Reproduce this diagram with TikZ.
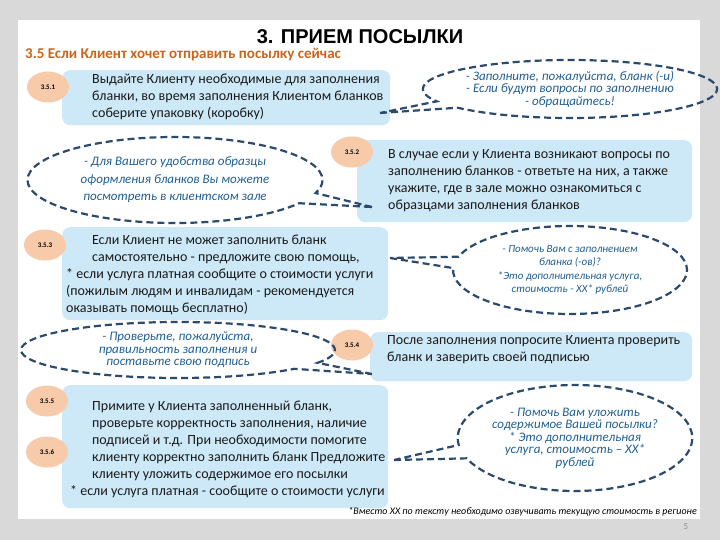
\documentclass[tikz,border=0pt]{standalone}
\usepackage{fontspec}
\setmainfont{Carlito}
\newfontfamily\titlefont{Liberation Sans}
\usetikzlibrary{shapes.geometric,shapes.callouts}
\definecolor{fond}{HTML}{D9D9D9}
\definecolor{bleu}{HTML}{CDE9F8}
\definecolor{peche}{HTML}{F7CBAA}
\definecolor{tiret}{HTML}{2C4A6C}
\definecolor{ecrit}{HTML}{1F5F92}
\definecolor{titreor}{HTML}{C8661E}

\begin{document}
\begin{tikzpicture}[x=1pt,y=-1pt,
  boite/.style={fill=bleu,rounded corners=8pt,inner sep=0pt,anchor=north west},
  num/.style={ellipse,fill=peche,minimum width=42pt,minimum height=31pt,inner sep=0pt,
    font=\fontsize{7}{8}\selectfont\bfseries},
  texte/.style={anchor=west,align=left,inner sep=0pt,text=black!90,
    font=\fontsize{14}{17}\selectfont},
  bulle/.style={ellipse callout,draw=tiret,line width=2.2pt,dash pattern=on 7pt off 4pt,
    inner sep=0pt,align=center,text=ecrit,font=\fontsize{13}{12.5}\selectfont\itshape}]

  % fond de la diapositive
\fill[fond] (0,0) rectangle (720,540);
\fill[white] (18,20) rectangle (700,519);
\useasboundingbox (0,0) rectangle (720,540);

  % titres
\node[font=\titlefont\fontsize{20}{22}\selectfont\bfseries] (titre) at (360,37) {3. ПРИЕМ ПОСЫЛКИ};
\node[anchor=west,inner sep=0pt,text=titreor,font=\fontsize{15}{16}\selectfont\bfseries] (soustitre) at (25,55)
  {3.5 Если Клиент хочет отправить посылку сейчас};

  % rectangles
\node[boite,minimum width=328pt,minimum height=55pt] (b1) at (62,70) {};
\node[boite,minimum width=335pt,minimum height=82pt] (b2) at (357,140) {};
\node[boite,minimum width=326pt,minimum height=93pt] (b3) at (62,227) {};
\node[boite,minimum width=322pt,minimum height=49pt] (b4) at (370,332) {};
\node[boite,minimum width=326pt,minimum height=123pt] (b5) at (62,385) {};

  % numeros
\node[num] (n1) at (48,87) {3.5.1};
\node[num] (n2) at (352,152) {3.5.2};
\node[num] (n3) at (45,245) {3.5.3};
\node[num] (n4) at (352,345) {3.5.4};
\node[num] (n5) at (47,401) {3.5.5};
\node[num] (n6) at (47,452) {3.5.6};

  % textes
\node[texte] (t1) at (92,97) {Выдайте Клиенту необходимые для заполнения\\
  бланки, во время заполнения Клиентом бланков\\
  соберите упаковку (коробку)};
\node[texte] (t2) at (388,180.5) {В случае если у Клиента возникают вопросы по\\
  заполнению бланков - ответьте на них, а также\\
  укажите, где в зале можно ознакомиться с\\
  образцами заполнения бланков};
\node[texte] (t3) at (66,275) {\hspace*{26pt}Если Клиент не может заполнить бланк\\
  \hspace*{26pt}самостоятельно - предложите свою помощь,\\
  * если услуга платная сообщите о стоимости услуги\\
  (пожилым людям и инвалидам - рекомендуется\\
  оказывать помощь бесплатно)};
\node[texte] (t4) at (387,349.5) {После заполнения попросите Клиента проверить\\
  бланк и заверить своей подписью};
\node[texte] (t5) at (70,449.5) {\hspace*{22pt}Примите у Клиента заполненный бланк,\\
  \hspace*{22pt}проверьте корректность заполнения, наличие\\
  \hspace*{22pt}подписей и т.д. При необходимости помогите\\
  \hspace*{22pt}клиенту корректно заполнить бланк Предложите\\
  \hspace*{22pt}клиенту уложить содержимое его посылки\\
  * если услуга платная - сообщите о стоимости услуги};

  % bulles
\coordinate (p1) at (380,113);
\coordinate (p2) at (372,207);
\coordinate (p3) at (390,258);
\coordinate (p4) at (372,374);
\coordinate (p5) at (394,460);

\node[bulle,minimum width=240pt,minimum height=58pt,callout absolute pointer={(p1)}] (c1) at (570,89)
  {- Заполните, пожалуйста, бланк (-и)\\- Если будут вопросы по заполнению\\- обращайтесь!};
\node[bulle,minimum width=295pt,minimum height=86pt,callout absolute pointer={(p2)},
  font=\fontsize{13}{17.5}\selectfont\itshape] (c2) at (175,180)
  {- Для Вашего удобства образцы\\оформления бланков Вы можете\\посмотреть в клиентском зале};
\node[bulle,minimum width=234pt,minimum height=88pt,callout absolute pointer={(p3)},
  font=\fontsize{11}{13.5}\selectfont\itshape] (c3) at (570,270)
  {- Помочь Вам с заполнением\\бланка (-ов)?\\*Это дополнительная услуга,\\стоимость - XX* рублей};
\node[bulle,minimum width=314pt,minimum height=56pt,callout absolute pointer={(p4)}] (c4) at (178,350)
  {- Проверьте, пожалуйста,\\правильность заполнения и\\поставьте свою подпись};
\node[bulle,minimum width=230pt,minimum height=106pt,callout absolute pointer={(p5)}] (c5) at (575,438)
  {- Помочь Вам уложить\\содержимое Вашей посылки?\\* Это дополнительная\\услуга, стоимость – XX*\\рублей};

  % notes
\node[anchor=east,inner sep=0pt,font=\fontsize{10}{11}\selectfont\itshape] (note) at (697,512)
  {*Вместо XX по тексту необходимо озвучивать текущую стоимость в регионе};
\node[text=black!45,font=\fontsize{9}{10}\selectfont] (page) at (686,527) {5};
\end{tikzpicture}
\end{document}
